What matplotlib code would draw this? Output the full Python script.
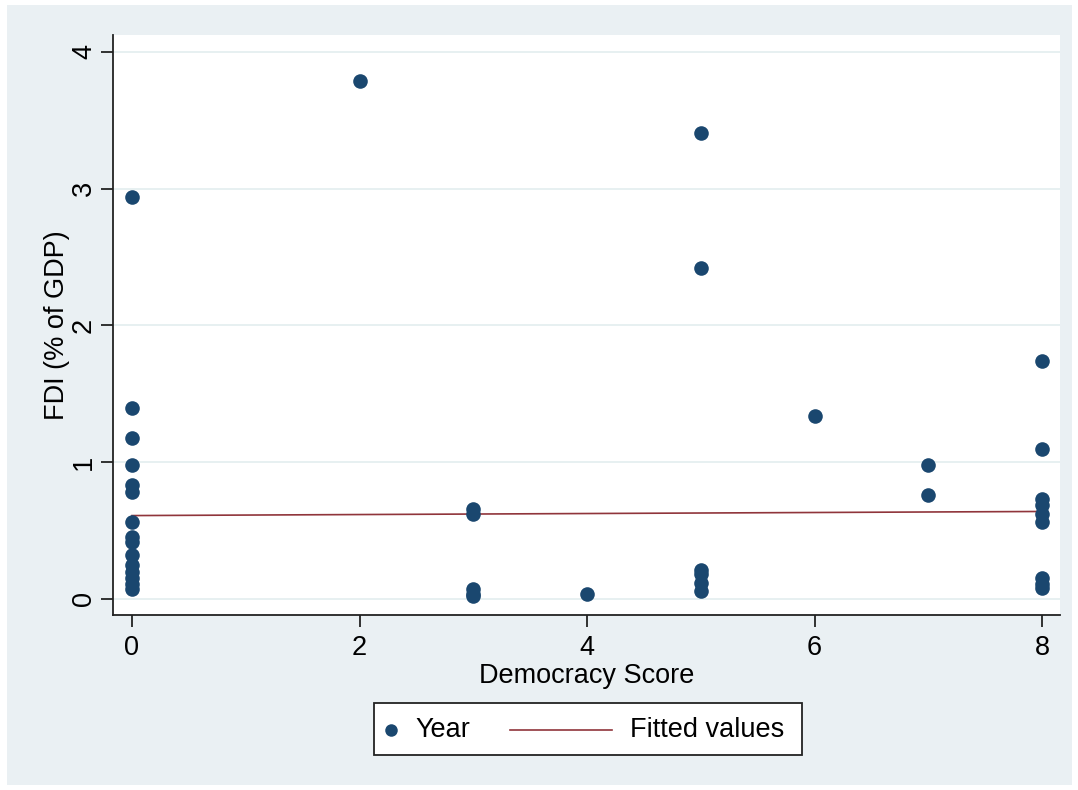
import matplotlib
matplotlib.use("Agg")
import matplotlib.pyplot as plt
from matplotlib.patches import Rectangle
from matplotlib.lines import Line2D
import numpy as np

plt.rcParams['font.family'] = ['Liberation Sans', 'DejaVu Sans']

# Data
democracy = [0]*15 + [2] + [3]*5 + [4] + [5]*6 + [6] + [7]*2 + [8]*9
fdi = [2.94, 1.40, 1.18, 0.98, 0.83, 0.78, 0.56, 0.45, 0.42, 0.32, 0.25, 0.20, 0.15, 0.11, 0.07,
       3.79,
       0.66, 0.62, 0.07, 0.04, 0.02,
       0.04,
       3.41, 2.42, 0.21, 0.18, 0.12, 0.06,
       1.34,
       0.98, 0.76,
       1.74, 1.10, 0.73, 0.69, 0.62, 0.56, 0.15, 0.11, 0.08]
fit_x = [0, 8]
fit_y = [0.61, 0.64]
xticks = [0, 2, 4, 6, 8]
yticks = [0, 1, 2, 3, 4]
legend_labels = ['Year', 'Fitted values']

navy = '#1A476F'
maroon = '#90353B'
bg = '#EAF0F3'
FS = 19.5

W, H = 1078, 790
fig = plt.figure(figsize=(W/100, H/100), dpi=100, facecolor='white')
fig.patches.append(Rectangle((7/W, 5/H), 1065/W, 780/H, transform=fig.transFigure,
                             facecolor=bg, edgecolor='none', zorder=-10))
ax = fig.add_axes([113/W, 1-615/H, (1060-113)/W, (615-35)/H])
ax.set_facecolor('white')

ax.plot(democracy, fdi, 'o', ms=10.5, color=navy, mec='none', zorder=3)
ax.plot(fit_x, fit_y, color=maroon, lw=1.2, zorder=2)

ax.set_xlim(-0.167, 8.158)
ax.set_ylim(-0.117, 4.124)
ax.set_xticks(xticks)
ax.set_yticks(yticks)
ax.set_yticklabels([str(t) for t in yticks], rotation=90, va='center')
ax.grid(axis='y', color='#E3EDEF', lw=1.2)
ax.set_axisbelow(True)
for s in ['top', 'right']:
    ax.spines[s].set_visible(False)
for s in ['left', 'bottom']:
    ax.spines[s].set_color('#222222')
    ax.spines[s].set_linewidth(1.3)
ax.tick_params(axis='both', direction='out', length=8.5, width=1.3, color='#222222',
               labelsize=FS)
ax.tick_params(axis='x', pad=6)
ax.tick_params(axis='y', pad=3)
ax.set_xlabel('Democracy Score', fontsize=FS, labelpad=1.5)
ax.set_ylabel('FDI (% of GDP)', fontsize=FS, labelpad=1)

# Legend box drawn in figure coordinates
fig.patches.append(Rectangle((374/W, 1-755/H), (802-374)/W, 52/H, transform=fig.transFigure,
                             facecolor='white', edgecolor='#222222', lw=1.3, zorder=5))
ly = 1-730/H
fig.lines.append(Line2D([391/W], [ly], transform=fig.transFigure, marker='o', ms=9,
                        color=navy, mec='none', zorder=6))
fig.text(415/W, ly, legend_labels[0], fontsize=FS, va='center', ha='left', zorder=6)
fig.lines.append(Line2D([510/W, 612/W], [ly, ly], transform=fig.transFigure,
                        color=maroon, lw=1.2, zorder=6))
fig.text(630/W, ly, legend_labels[1], fontsize=FS, va='center', ha='left', zorder=6)

fig.savefig('out.png', dpi=100, facecolor='white')
